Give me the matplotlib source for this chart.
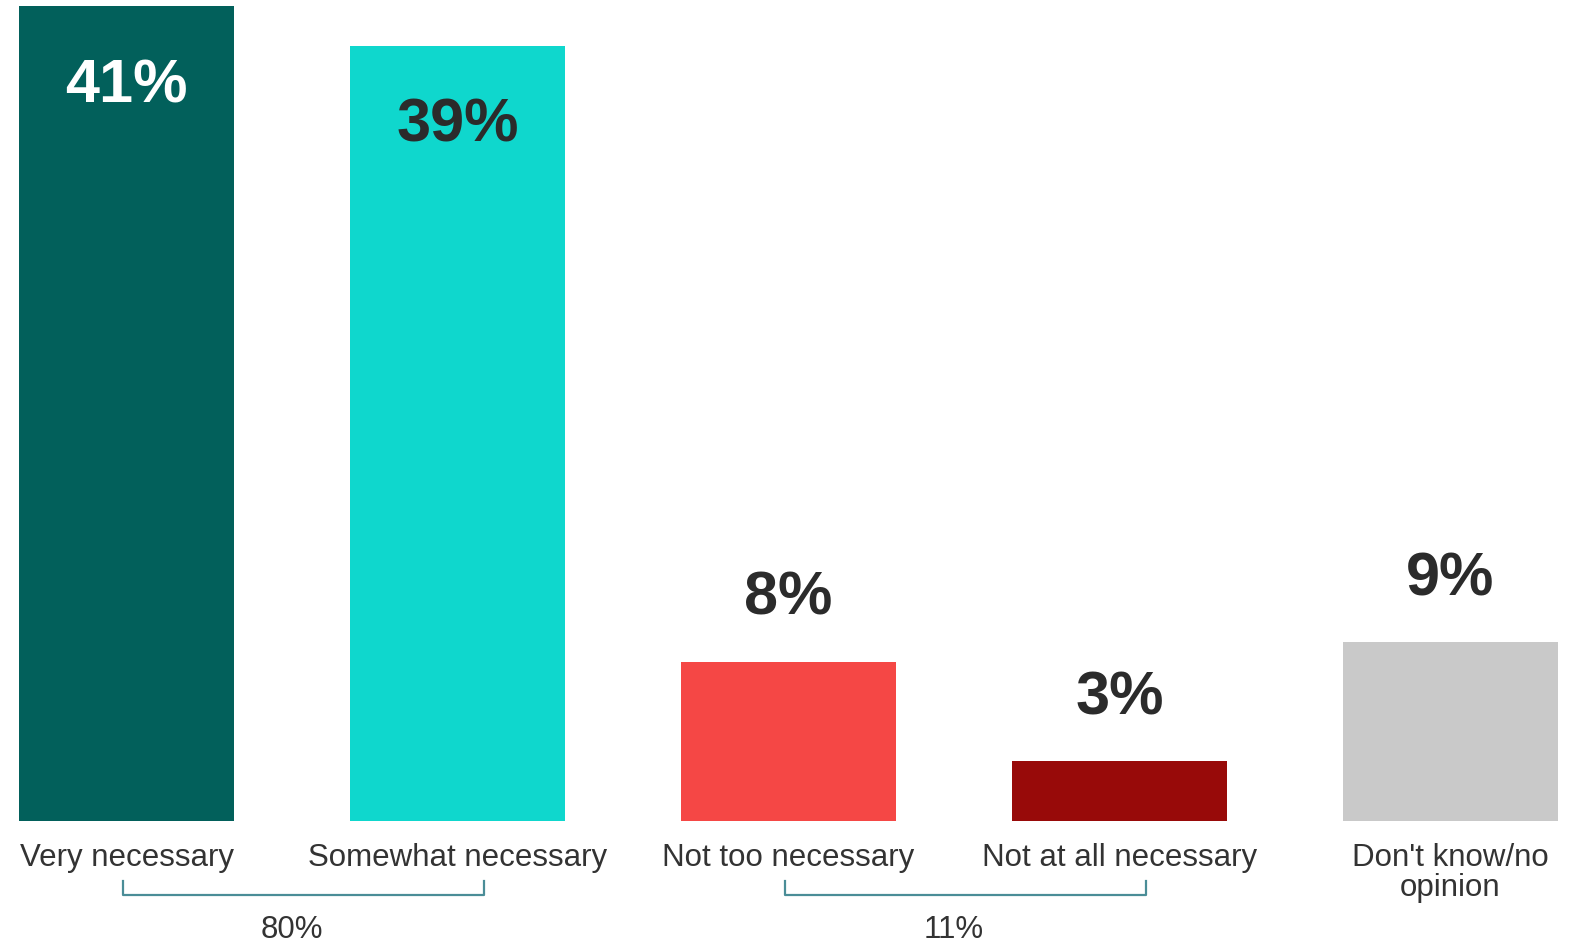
import matplotlib.pyplot as plt

plt.rcParams['font.family'] = ['Liberation Sans', 'DejaVu Sans']

# survey answers
categories = ['Very necessary', 'Somewhat necessary', 'Not too necessary',
              'Not at all necessary', "Don't know/no\nopinion"]
values = [41, 39, 8, 3, 9]
bar_colors = ['#02605b', '#0fd7cd', '#f54745', '#980a09', '#c9c9c9']
label_colors = ['white', '#2b2b2b', '#2b2b2b', '#2b2b2b', '#2b2b2b']
inside = [True, True, False, False, False]

# net totals under the bars
groups = [(0, 1), (2, 3)]
group_totals = ['80%', '11%']

text_col = '#333333'
bracket_col = '#4a8d97'

fig = plt.figure(figsize=(15.73, 9.44), dpi=100)
ax = fig.add_axes([19 / 1573, 123 / 944, 1539 / 1573, 815 / 944])

x = list(range(len(values)))
ax.bar(x, values, width=0.65, color=bar_colors)
ax.set_xlim(-0.325, len(values) - 1 + 0.325)
ax.set_ylim(0, max(values))

for i, v in enumerate(values):
    off = -58 if inside[i] else 45
    ax.annotate(f'{v}%', (i, v), xytext=(0, off), textcoords='offset points',
                ha='center', va='center', fontsize=44, fontweight='bold',
                color=label_colors[i])

ax.set_xticks(x)
ax.set_xticklabels(categories, fontsize=22.5, color=text_col)
ax.tick_params(axis='x', length=0, pad=16)
for lbl in ax.get_xticklabels():
    lbl.set_linespacing(1.0)
ax.set_yticks([])
for s in ax.spines.values():
    s.set_visible(False)

# brackets grouping the answers
trans = ax.get_xaxis_transform()
for (a, b), total in zip(groups, group_totals):
    x0, x1 = a - 0.01, b + 0.08
    ax.plot([x0, x0, x1, x1], [-0.0736, -0.0908, -0.0908, -0.0736],
            transform=trans, color=bracket_col, lw=1.6, clip_on=False)
    ax.text((a + b) / 2, -0.143, total, transform=trans, ha='center',
            va='baseline', fontsize=22.5, color=text_col)

fig.savefig('out.png', dpi=100)
